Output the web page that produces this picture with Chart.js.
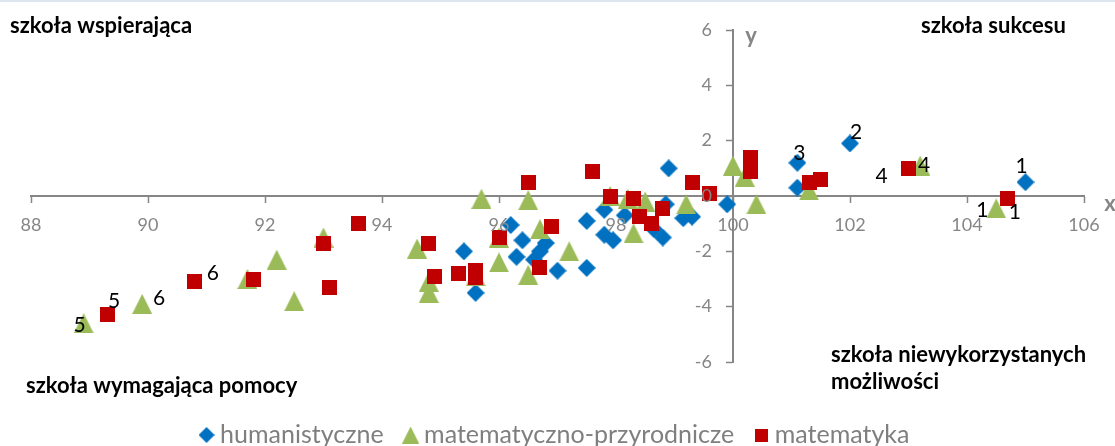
<!DOCTYPE html>
<html lang="pl">
<head>
<meta charset="utf-8">
<title>Typy szkół</title>
<script src="https://cdn.jsdelivr.net/npm/chart.js@4.4.1/dist/chart.umd.min.js"></script>
<style>
  html, body { margin: 0; padding: 0; background: #fff; }
  #wrap { width: 1115px; height: 446px; position: relative; }
</style>
</head>
<body>
<div id="wrap"><canvas id="chart"></canvas></div>
<script>
// ---------------------
// DATA
// ---------------------
const seriesNames = ['humanistyczne', 'matematyczno-przyrodnicze', 'matematyka'];

// humanistyczne (blue diamonds)
const humX = [105.0, 102.0, 101.1, 101.1, 98.9, 99.9, 98.85, 99.15, 99.3, 98.65, 98.8, 98.15, 97.8, 97.5, 97.8, 97.95, 97.5, 97.0, 96.8, 96.7, 96.6, 96.2, 96.4, 96.3, 95.4, 95.6];
const humY = [0.5, 1.9, 1.2, 0.3, 1.0, -0.3, -0.3, -0.8, -0.75, -1.2, -1.5, -0.7, -0.5, -0.9, -1.4, -1.6, -2.6, -2.7, -1.7, -2.0, -2.3, -1.05, -1.6, -2.2, -2.0, -3.5];
const humTags = ['1', '2', '3'];

// matematyczno-przyrodnicze (green triangles)
const mpX = [104.5, 103.2, 88.9, 89.9, 101.3, 100.0, 100.2, 100.4, 99.2, 98.5, 98.2, 97.9, 98.3, 97.2, 96.7, 96.5, 96.0, 96.0, 96.5, 95.7, 95.6, 94.8, 94.8, 94.6, 93.0, 92.5, 92.2, 91.7];
const mpY = [-0.45, 1.1, -4.6, -3.9, 0.2, 1.1, 0.7, -0.3, -0.3, -0.2, -0.1, 0.0, -1.35, -2.0, -1.2, -2.85, -2.4, -1.5, -0.15, -0.1, -2.9, -3.1, -3.5, -1.9, -1.5, -3.8, -2.3, -3.0];
const mpTags = ['1', '4', '5', '6'];

// matematyka (red squares)
const matX = [104.7, 103.0, 89.3, 90.8, 101.3, 101.5, 100.3, 100.3, 99.6, 99.3, 98.8, 98.6, 98.4, 98.3, 97.9, 97.6, 96.5, 96.9, 96.7, 96.0, 95.6, 95.6, 95.3, 94.9, 94.8, 93.6, 93.0, 93.1, 91.8];
const matY = [-0.1, 1.0, -4.3, -3.1, 0.5, 0.6, 1.4, 0.9, 0.1, 0.5, -0.45, -1.0, -0.75, -0.1, 0.0, 0.9, 0.5, -1.1, -2.6, -1.5, -2.7, -2.95, -2.8, -2.9, -1.7, -1.0, -1.7, -3.3, -3.0];
const matTags = ['1', '4', '5', '6'];

const xTicks = [88, 90, 92, 94, 96, 98, 100, 102, 104, 106];
const yTicks = [-6, -4, -2, 0, 2, 4, 6];
const axisNames = ['x', 'y'];

const quadrantNames = [
  ['szkoła wspierająca'],
  ['szkoła sukcesu'],
  ['szkoła wymagająca pomocy'],
  ['szkoła niewykorzystanych', 'możliwości']
];

// ---------------------
// STYLE
// ---------------------
const BLUE = '#0070C0', GREEN = '#9BBB59', RED = '#C00000', GREY = '#868686';
const FONT = 'Lato';

// label offsets (px) from the point, per series / tag index
const tagOffsets = [
  [[-4, -16], [6, -11], [2, -10]],
  [[-14, 2], [4, 0], [-4, 2], [17, -6]],
  [[7, 13], [-27, 8], [7, -14], [18, -9]]
];

// quadrant label anchors (left x, first baseline)
const quadrantPos = [[10, 33], [921, 33], [26, 393], [831, 362]];

function marker(shape, size, color) {
  const c = document.createElement('canvas');
  c.width = size; c.height = size;
  const g = c.getContext('2d');
  g.fillStyle = color;
  g.beginPath();
  if (shape === 'diamond') {
    g.moveTo(size / 2, 0); g.lineTo(size, size / 2); g.lineTo(size / 2, size); g.lineTo(0, size / 2);
  } else if (shape === 'triangle') {
    g.moveTo(size / 2, 0); g.lineTo(size, size); g.lineTo(0, size);
  } else {
    g.rect(0, 0, size, size);
  }
  g.closePath();
  g.fill();
  return c;
}

const pointMarkers = [marker('diamond', 18, BLUE), marker('triangle', 20, GREEN), marker('square', 15, RED)];
const legendMarkers = [marker('diamond', 16, BLUE), marker('triangle', 17, GREEN), marker('square', 13, RED)];

const toPoints = (xs, ys) => xs.map((x, i) => ({x: x, y: ys[i]}));
const allTags = [humTags, mpTags, matTags];

// ---------------------
// ANNOTATIONS PLUGIN
// ---------------------
const annotations = {
  id: 'annotations',
  beforeDraw(chart) {
    const ctx = chart.ctx;
    ctx.save();
    ctx.fillStyle = '#dde6ef';
    ctx.fillRect(0, 0, chart.width, 2);
    ctx.restore();
  },
  afterDatasetsDraw(chart) {
    const {ctx, chartArea, scales: {x, y}} = chart;
    const x0 = x.getPixelForValue(100), y0 = y.getPixelForValue(0);
    ctx.save();

    // tick labels (on top of the markers, like the original)
    ctx.font = '18px ' + FONT;
    ctx.fillStyle = GREY;
    ctx.textBaseline = 'middle';
    ctx.textAlign = 'center';
    x.ticks.forEach(t => ctx.fillText(t.label ?? String(t.value), x.getPixelForValue(t.value), y0 + 29));
    ctx.textAlign = 'right';
    y.ticks.forEach(t => ctx.fillText(t.label ?? String(t.value), x0 - 21, y.getPixelForValue(t.value)));

    // point tags
    ctx.font = '21px ' + FONT;
    ctx.fillStyle = '#000';
    ctx.textAlign = 'center';
    allTags.forEach((tags, si) => {
      const pts = chart.data.datasets[si].data;
      tags.forEach((t, i) => {
        const off = tagOffsets[si][i];
        ctx.fillText(t, x.getPixelForValue(pts[i].x) + off[0], y.getPixelForValue(pts[i].y) + off[1]);
      });
    });

    // quadrant names
    ctx.font = 'bold 22px ' + FONT;
    ctx.textAlign = 'left';
    ctx.textBaseline = 'alphabetic';
    quadrantNames.forEach((lines, qi) => {
      lines.forEach((line, li) => ctx.fillText(line, quadrantPos[qi][0], quadrantPos[qi][1] + li * 27));
    });

    // axis names
    ctx.fillStyle = GREY;
    ctx.textAlign = 'center';
    ctx.textBaseline = 'middle';
    ctx.fillText(axisNames[0], chartArea.right + 26, y0 + 8);
    ctx.fillText(axisNames[1], x0 + 18, chartArea.top + 6);
    ctx.restore();
  }
};

// ---------------------
// CHART
// ---------------------
const ctx = document.getElementById('chart').getContext('2d');

new Chart(ctx, {
  type: 'scatter',
  data: {
    datasets: [
      { label: seriesNames[0], data: toPoints(humX, humY), pointStyle: pointMarkers[0], pointRadius: 9, backgroundColor: BLUE, borderColor: BLUE, order: 3 },
      { label: seriesNames[1], data: toPoints(mpX, mpY), pointStyle: pointMarkers[1], pointRadius: 10, backgroundColor: GREEN, borderColor: GREEN, order: 2 },
      { label: seriesNames[2], data: toPoints(matX, matY), pointStyle: pointMarkers[2], pointRadius: 8, backgroundColor: RED, borderColor: RED, order: 1 }
    ]
  },
  options: {
    responsive: true,
    maintainAspectRatio: false,
    animation: false,
    events: [],
    layout: { padding: { left: 31, right: 31, top: 30, bottom: -11.5 } },
    plugins: {
      tooltip: { enabled: false },
      legend: {
        position: 'bottom',
        title: { display: true, text: '', padding: { top: 24.5, bottom: 0 }, font: { size: 10, lineHeight: 1 } },
        labels: {
          usePointStyle: true,
          pointStyleWidth: 2,
          padding: 26,
          color: '#7f7f7f',
          font: { family: FONT, size: 25 },
          generateLabels: chart => Chart.defaults.plugins.legend.labels.generateLabels(chart)
            .sort((a, b) => a.datasetIndex - b.datasetIndex)
            .map(item => Object.assign(item, { pointStyle: legendMarkers[item.datasetIndex] }))
        }
      }
    },
    scales: {
      x: {
        type: 'linear',
        position: { y: 0 },
        min: 88,
        max: 106,
        afterBuildTicks: s => { s.ticks = xTicks.map(v => ({ value: v })); },
        ticks: { display: false },
        grid: { drawOnChartArea: false, drawTicks: true, tickLength: 6, color: GREY, tickWidth: 1.5 },
        border: { display: true, color: GREY, width: 2 }
      },
      y: {
        type: 'linear',
        position: { x: 100 },
        min: -6,
        max: 6,
        afterBuildTicks: s => { s.ticks = yTicks.map(v => ({ value: v })); },
        ticks: { display: false },
        grid: { drawOnChartArea: false, drawTicks: true, tickLength: 6, color: GREY, tickWidth: 1.5 },
        border: { display: true, color: GREY, width: 2 }
      }
    }
  },
  plugins: [annotations]
});
</script>
</body>
</html>
